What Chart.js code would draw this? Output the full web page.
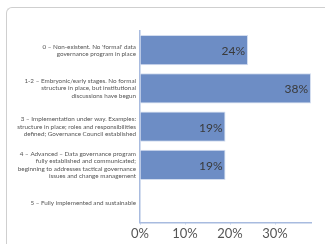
<!DOCTYPE html>
<html>
<head>
<meta charset="utf-8">
<script src="https://cdn.jsdelivr.net/npm/chart.js@4"></script>
<style>
  html, body { margin: 0; padding: 0; background: #fff; overflow: hidden; width: 325px; height: 244px; }
  #frame { position: absolute; left: 6px; top: 7px; width: 330px; height: 250px;
           border-top: 1px solid #cfcfcf; border-left: 1px solid #cfcfcf;
           border-top-left-radius: 6px; }
  #wrap { position: absolute; left: 0; top: 0; width: 325px; height: 244px; }
</style>
</head>
<body>
<div id="frame"></div>
<div id="wrap"><canvas id="govChart" width="325" height="244"></canvas></div>
<script>
// ==== Dữ liệu ====
const categories = [
    ["0 – Non-existent. No 'formal' data", "governance program in place"],
    ["1-2 – Embryonic/early stages. No formal", "structure in place, but institutional", "discussions have begun"],
    ["3 – Implementation under way. Examples:", "structure in place; roles and responsibilities", "defined; Governance Council established"],
    ["4 – Advanced – Data governance program", "fully established and communicated;", "beginning to addresses tactical governance", "issues and change management"],
    ["5 – Fully implemented and sustainable"]
];
const percentValues = [24, 38, 19, 19, null];
const tickValues = [0, 10, 20, 30];

// ==== Plugin vẽ nhãn % trong thanh ====
const valueLabels = {
    id: 'valueLabels',
    afterDatasetsDraw(chart) {
        const ctx = chart.ctx;
        const meta = chart.getDatasetMeta(0);
        ctx.save();
        ctx.font = '12px Lato';
        ctx.fillStyle = '#3a3a3a';
        ctx.textAlign = 'right';
        ctx.textBaseline = 'middle';
        meta.data.forEach((bar, i) => {
            const v = percentValues[i];
            if (v === null) return;
            ctx.fillText(v + '%', bar.x - 3, bar.y + 1);
        });
        ctx.restore();
    }
};

const ctx = document.getElementById('govChart').getContext('2d');
const govChart = new Chart(ctx, {
    type: 'bar',
    data: {
        labels: categories,
        datasets: [{
            data: percentValues,
            backgroundColor: '#6d8dc5',
            borderColor: '#d3ddef',
            borderWidth: 1,
            barPercentage: 0.79,
            categoryPercentage: 1
        }]
    },
    options: {
        indexAxis: 'y',
        responsive: false,
        animation: false,
        layout: { padding: { left: 4, right: 14, top: 31, bottom: 0 } },
        plugins: { legend: { display: false }, tooltip: { enabled: false } },
        scales: {
            x: {
                min: 0,
                max: 38,
                afterBuildTicks(scale) {
                    scale.ticks = tickValues.map(v => ({ value: v }));
                },
                grid: { drawOnChartArea: false, drawTicks: true, tickLength: 2, color: '#a8bbdf' },
                border: { color: '#a8bbdf', width: 1.5 },
                ticks: {
                    padding: 2,
                    color: '#555',
                    font: { family: 'Lato', size: 13 },
                    callback: v => v + '%'
                }
            },
            y: {
                afterFit(scale) { scale.width = 136; },
                grid: { display: false, drawTicks: false },
                border: { color: '#a8bbdf', width: 1.5 },
                ticks: {
                    padding: 4,
                    color: '#555',
                    font: { family: 'Lato', size: 6.3, lineHeight: 1.15 }
                }
            }
        }
    },
    plugins: [valueLabels]
});
</script>
</body>
</html>
